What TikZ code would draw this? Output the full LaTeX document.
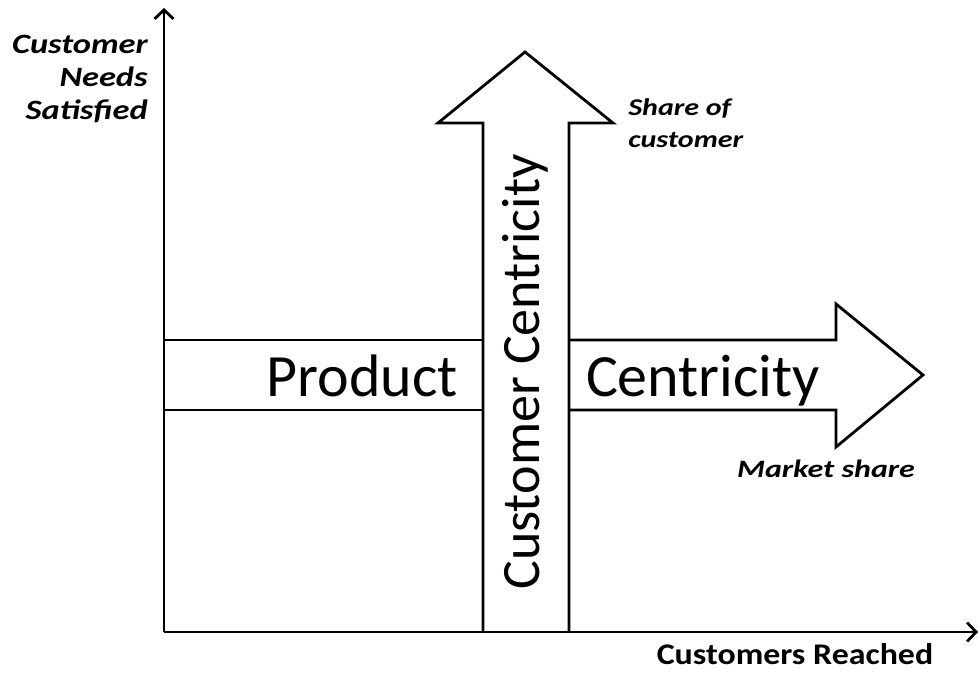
\documentclass[tikz,border=0pt]{standalone}
\usepackage{fontspec}
\setmainfont{Carlito}
\usetikzlibrary{arrows.meta}
\tikzset{
  axis/.style={line width=2.8pt, -{Straight Barb[length=9pt,width=19pt,line width=2.8pt]}},
  bigarrow/.style={line width=2.8pt, line join=miter},
  big/.style={font=\fontsize{60}{62}\selectfont, inner sep=0pt},
  lab/.style={font=\fontsize{28}{33}\selectfont\bfseries\itshape, inner sep=0pt},
}
\begin{document}
\begin{tikzpicture}[x=1pt,y=-1pt]
\useasboundingbox (0,0) rectangle (979,672);
\coordinate (o) at (164,632);
\coordinate (ytop) at (164,8);
\coordinate (xend) at (978,632);
\draw[axis] (o) -- (ytop);
\draw[axis] (o) -- (xend);
% vertical big arrow
\draw[bigarrow] (483,632) -- (483,123) -- (438,123) -- (525,52) -- (613,123) -- (569,123) -- (569,632);
% horizontal band
\draw[bigarrow] (164,340) -- (483,340);
\draw[bigarrow] (164,410) -- (483,410);
\draw[bigarrow] (569,340) -- (836,340) -- (836,304) -- (923,375) -- (836,447) -- (836,410) -- (569,410);
\node[big, anchor=base] (prod) at (362,396) {Product};
\node[big, anchor=base] (cent) at (703,396) {Centricity};
\node[big, rotate=90, font=\fontsize{54}{56}\selectfont] (cc) at (525,372) {Customer Centricity};
\node[lab, anchor=east, align=right, xscale=1.23] (ylab) at (148,79) {Customer\\Needs\\Satisfied};
\node[lab, anchor=west, align=left, xscale=1.25, font=\fontsize{24}{32}\selectfont\bfseries\itshape] (soc) at (628,123) {Share of\\customer};
\node[lab, anchor=base, xscale=1.28, font=\fontsize{25}{27}\selectfont\bfseries\itshape] (ms) at (826,477) {Market share};
\node[lab, anchor=base, xscale=1.13, font=\fontsize{30}{32}\selectfont\bfseries] (cr) at (795,664) {Customers Reached};
\end{tikzpicture}
\end{document}
